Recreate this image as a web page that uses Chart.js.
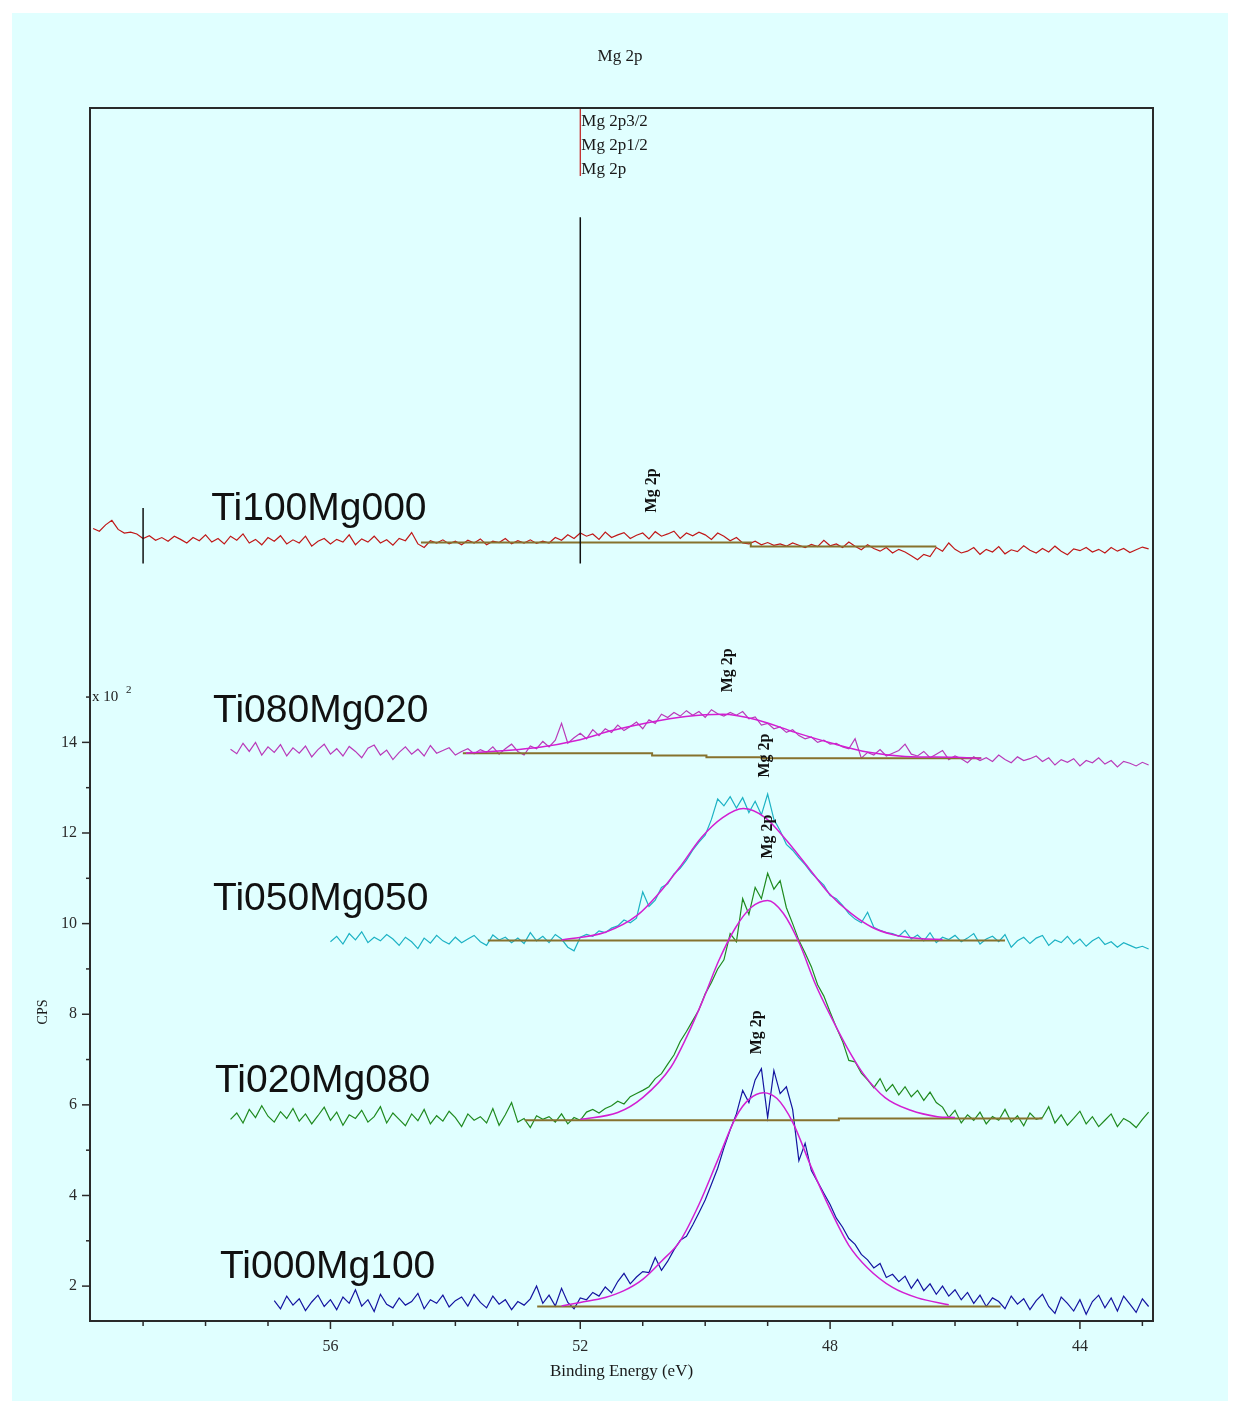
<!DOCTYPE html>
<html lang="en">
<head>
<meta charset="UTF-8">
<title>Mg 2p</title>
<script src="https://cdn.jsdelivr.net/npm/chart.js"></script>
<style>
  body { margin: 0; background: #ffffff; }
  /* light cyan sheet behind the plot */
  #panel { position: absolute; left: 12px; top: 13px; width: 1216px; height: 1388px; background: #e0ffff; }
  #xps { position: absolute; left: 0; top: 0; }
</style>
</head>
<body>
<div id="panel"></div>
<canvas id="xps" width="1239" height="1405"></canvas>
<script>
// counts are in units of 10^2 CPS, spectra stacked with offsets as in the figure
// each spectrum: first binding energy, then one value every 0.1 eV going down
const STEP = 0.1;

const ti100Start = 59.8;
const ti100Mg000 = [
  18.72, 18.66, 18.80, 18.90, 18.70, 18.62, 18.64, 18.60, 18.50, 18.56,
  18.46, 18.52, 18.44, 18.55, 18.48, 18.40, 18.52, 18.45, 18.58, 18.42,
  18.50, 18.38, 18.55, 18.46, 18.60, 18.40, 18.48, 18.36, 18.52, 18.44,
  18.56, 18.38, 18.47, 18.40, 18.55, 18.33, 18.44, 18.50, 18.38, 18.48,
  18.42, 18.58, 18.36, 18.49, 18.42, 18.55, 18.40, 18.47, 18.35, 18.50,
  18.45, 18.63, 18.38, 18.30, 18.45, 18.40, 18.47, 18.38, 18.44, 18.36,
  18.46, 18.40, 18.49, 18.36, 18.44, 18.41, 18.50, 18.38, 18.45, 18.40,
  18.47, 18.39, 18.44, 18.40, 18.52, 18.46, 18.58, 18.50, 18.62, 18.55,
  18.60, 18.48, 18.64, 18.52, 18.58, 18.63, 18.50, 18.57, 18.62, 18.49,
  18.65, 18.55, 18.60, 18.66, 18.50, 18.62, 18.56, 18.64, 18.58, 18.48,
  18.62, 18.55, 18.45, 18.52, 18.40, 18.38, 18.44, 18.36, 18.41, 18.35,
  18.38, 18.33, 18.40, 18.35, 18.30, 18.37, 18.32, 18.46, 18.34, 18.38,
  18.30, 18.42, 18.33, 18.25, 18.36, 18.28, 18.22, 18.30, 18.18, 18.26,
  18.20, 18.12, 18.03, 18.15, 18.10, 18.30, 18.22, 18.40, 18.26, 18.18,
  18.22, 18.30, 18.15, 18.26, 18.20, 18.32, 18.16, 18.25, 18.21, 18.34,
  18.24, 18.18, 18.28, 18.20, 18.33, 18.22, 18.14, 18.27, 18.23, 18.30,
  18.20, 18.26, 18.18, 18.30, 18.22, 18.28, 18.19, 18.25, 18.31, 18.27
];

const ti080Start = 57.6;
const ti080Mg020 = [
  13.85, 13.75, 13.98, 13.80, 14.00, 13.72, 13.90, 13.78, 13.95, 13.70,
  13.88, 13.76, 13.92, 13.68, 13.84, 13.96, 13.74, 13.86, 13.70, 13.91,
  13.80, 13.66, 13.87, 13.94, 13.72, 13.83, 13.62, 13.78, 13.90, 13.74,
  13.85, 13.70, 13.93, 13.76, 13.82, 13.88, 13.72, 13.80, 13.86, 13.75,
  13.84, 13.78, 13.90, 13.74, 13.86, 13.96, 13.80, 13.72, 13.92, 13.86,
  14.02, 13.90, 14.05, 14.42, 13.98, 14.10, 14.20, 14.08, 14.28, 14.15,
  14.30, 14.22, 14.38, 14.26, 14.35, 14.45, 14.30, 14.50, 14.42, 14.62,
  14.55, 14.66, 14.58, 14.70, 14.60, 14.68, 14.55, 14.72, 14.63, 14.58,
  14.66, 14.60, 14.68, 14.52, 14.56, 14.38, 14.42, 14.30, 14.34, 14.22,
  14.28, 14.15, 14.08, 14.12, 14.00, 14.05, 13.96, 13.98, 13.90, 13.86,
  14.08, 13.65, 13.78, 13.72, 13.84, 13.70, 13.76, 13.82, 13.96, 13.74,
  13.70, 13.80, 13.66, 13.74, 13.82, 13.62, 13.70, 13.64, 13.55, 13.68,
  13.60, 13.66, 13.58, 13.72, 13.62, 13.55, 13.68, 13.60, 13.64, 13.70,
  13.58, 13.66, 13.50, 13.62, 13.56, 13.64, 13.48, 13.60, 13.55, 13.66,
  13.52, 13.60, 13.46, 13.58, 13.54, 13.48, 13.56, 13.50
];

const ti050Start = 56.0;
const ti050Mg050 = [
  9.60, 9.72, 9.55, 9.78, 9.64, 9.82, 9.58, 9.70, 9.62, 9.76,
  9.66, 9.52, 9.70, 9.60, 9.45, 9.68, 9.57, 9.74, 9.62, 9.55,
  9.70, 9.58, 9.66, 9.74, 9.60, 9.52, 9.75, 9.64, 9.70, 9.58,
  9.68, 9.56, 9.80, 9.62, 9.72, 9.58, 9.76, 9.66, 9.48, 9.40,
  9.70, 9.76, 9.72, 9.84, 9.80, 9.90, 9.95, 10.08, 10.02, 10.12,
  10.70, 10.38, 10.52, 10.80, 10.88, 11.10, 11.22, 11.40, 11.62, 11.80,
  11.95, 12.30, 12.75, 12.60, 12.80, 12.55, 12.78, 12.45, 12.70, 12.40,
  12.86, 12.30, 12.05, 11.75, 11.62, 11.45, 11.30, 11.12, 10.98, 10.85,
  10.62, 10.55, 10.40, 10.22, 10.10, 10.02, 10.25, 9.92, 9.85, 9.80,
  9.78, 9.72, 9.85, 9.66, 9.75, 9.62, 9.80, 9.58, 9.70, 9.65,
  9.74, 9.60, 9.68, 9.78, 9.55, 9.66, 9.72, 9.60, 9.76, 9.48,
  9.62, 9.70, 9.56, 9.68, 9.74, 9.52, 9.64, 9.58, 9.72, 9.55,
  9.66, 9.50, 9.62, 9.70, 9.54, 9.60, 9.48, 9.58, 9.52, 9.46,
  9.50, 9.44
];

const ti020Start = 57.6;
const ti020Mg080 = [
  5.68, 5.82, 5.60, 5.90, 5.72, 5.98, 5.75, 5.62, 5.85, 5.70,
  5.92, 5.64, 5.80, 5.58, 5.76, 5.95, 5.66, 5.84, 5.55, 5.78,
  5.70, 5.88, 5.62, 5.74, 5.96, 5.60, 5.82, 5.68, 5.54, 5.80,
  5.65, 5.90, 5.58, 5.76, 5.64, 5.86, 5.72, 5.52, 5.80, 5.66,
  5.74, 5.60, 5.92, 5.55, 5.78, 6.05, 5.62, 5.70, 5.50, 5.76,
  5.68, 5.74, 5.62, 5.80, 5.58, 5.72, 5.66, 5.84, 5.90, 5.82,
  5.92, 5.98, 6.08, 6.02, 6.18, 6.25, 6.32, 6.40, 6.58, 6.69,
  6.90, 7.10, 7.40, 7.62, 7.86, 8.10, 8.45, 8.70, 9.00, 9.20,
  9.78, 9.60, 10.55, 10.20, 10.80, 10.55, 11.11, 10.76, 10.95, 10.35,
  10.00, 9.63, 9.35, 9.05, 8.65, 8.40, 8.05, 7.71, 7.40, 6.98,
  6.95, 6.70, 6.55, 6.38, 6.58, 6.30, 6.45, 6.22, 6.40, 6.18,
  6.32, 6.10, 6.28, 6.05, 5.95, 5.72, 5.88, 5.60, 5.78, 5.66,
  5.84, 5.58, 5.74, 5.66, 5.90, 5.62, 5.76, 5.54, 5.82, 5.68,
  5.72, 5.96, 5.60, 5.78, 5.55, 5.70, 5.86, 5.58, 5.74, 5.52,
  5.66, 5.80, 5.52, 5.70, 5.62, 5.50, 5.68, 5.84
];

const ti000Start = 56.9;
const ti000Mg100 = [
  1.68, 1.50, 1.78, 1.58, 1.72, 1.46, 1.65, 1.80, 1.55, 1.70,
  1.48, 1.76, 1.62, 1.92, 1.56, 1.70, 1.44, 1.82, 1.60, 1.52,
  1.74, 1.58, 1.66, 1.84, 1.50, 1.70, 1.62, 1.80, 1.54, 1.68,
  1.76, 1.56, 1.82, 1.64, 1.52, 1.78, 1.60, 1.70, 1.48, 1.66,
  1.58, 1.72, 2.00, 1.62, 1.80, 1.56, 1.95, 1.64, 1.50, 1.74,
  1.70, 1.86, 1.78, 1.98, 1.85, 2.10, 2.28, 2.05, 2.20, 2.32,
  2.30, 2.63, 2.35, 2.55, 2.80, 3.01, 3.10, 3.35, 3.62, 3.90,
  4.25, 4.60, 5.05, 5.45, 5.80, 6.32, 6.05, 6.55, 6.80, 5.72,
  6.76, 6.25, 6.40, 5.90, 4.77, 5.15, 4.55, 4.30, 4.05, 3.80,
  3.50, 3.30, 3.05, 2.92, 2.70, 2.58, 2.40, 2.50, 2.19, 2.26,
  2.10, 2.22, 1.95, 2.15, 1.90, 2.05, 1.82, 2.00, 1.78, 1.92,
  1.70, 1.86, 1.62, 1.80, 1.55, 1.74, 1.66, 1.50, 1.78, 1.60,
  1.72, 1.48, 1.68, 1.82, 1.55, 1.40, 1.76, 1.62, 1.45, 1.70,
  1.38, 1.66, 1.80, 1.52, 1.74, 1.45, 1.78, 1.60, 1.42, 1.72,
  1.55
];

// peak fit envelopes
const fit080E = [53.83, 52.65, 52.06, 51.49, 50.90, 50.31, 49.72, 49.15, 48.56, 47.97, 47.38, 46.80, 46.02, 45.58];
const fit080V = [13.76, 13.89, 14.04, 14.26, 14.44, 14.57, 14.62, 14.49, 14.22, 13.98, 13.78, 13.69, 13.67, 13.65];
const fit050E = [52.30, 51.60, 51.09, 50.74, 50.41, 50.06, 49.72, 49.39, 49.04, 48.70, 48.35, 48.02, 47.67, 47.33, 47.00, 46.57, 46.20];
const fit050V = [9.64, 9.81, 10.18, 10.67, 11.24, 11.90, 12.34, 12.54, 12.34, 11.84, 11.24, 10.67, 10.23, 9.92, 9.76, 9.67, 9.65];
const fit020E = [52.00, 51.40, 51.00, 50.55, 50.30, 50.04, 49.78, 49.51, 49.26, 49.00, 48.75, 48.49, 48.24, 47.98, 47.73, 47.47, 47.12, 46.71, 46.28, 46.00];
const fit020V = [5.68, 5.83, 6.16, 6.83, 7.49, 8.30, 9.19, 9.92, 10.36, 10.51, 10.23, 9.56, 8.68, 7.93, 7.27, 6.69, 6.16, 5.88, 5.74, 5.72];
const fit000E = [52.30, 52.00, 51.60, 51.30, 51.00, 50.70, 50.40, 50.10, 49.80, 49.50, 49.30, 49.07, 48.85, 48.60, 48.30, 48.00, 47.70, 47.40, 47.00, 46.60, 46.10];
const fit000V = [1.56, 1.64, 1.75, 1.90, 2.15, 2.55, 3.00, 3.80, 4.78, 5.75, 6.12, 6.27, 6.14, 5.62, 4.62, 3.70, 2.90, 2.40, 1.97, 1.74, 1.59];

// stepped backgrounds under each peak
const bg100E = [54.55, 49.27, 49.27, 46.30];
const bg100V = [18.41, 18.41, 18.32, 18.32];
const bg080E = [53.88, 50.85, 50.85, 49.98, 49.98, 49.10, 49.10, 45.58];
const bg080V = [13.76, 13.76, 13.71, 13.71, 13.67, 13.67, 13.65, 13.65];
const bg050E = [53.48, 45.20];
const bg050V = [9.63, 9.63];
const bg020E = [52.89, 47.86, 47.86, 44.60];
const bg020V = [5.66, 5.66, 5.70, 5.70];
const bg000E = [52.69, 45.27];
const bg000V = [1.55, 1.55];

// sample names: anchor = left edge energy, vertical centre value
const sampleNames = ['Ti100Mg000', 'Ti080Mg020', 'Ti050Mg050', 'Ti020Mg080', 'Ti000Mg100'];
const sampleNameE = [57.91, 57.88, 57.88, 57.85, 57.77];
const sampleNameV = [19.14, 14.68, 10.53, 6.52, 2.41];

// rotated "Mg 2p" peak labels
const peakLabelE = [50.85, 49.63, 49.05, 49.00, 49.18];
const peakLabelV = [19.56, 15.59, 13.71, 11.92, 7.60];

const xTickValues = [43, 44, 45, 46, 47, 48, 49, 50, 51, 52, 53, 54, 55, 56, 57, 58, 59];
const xTickLabels = [56, 52, 48, 44];
const yTickValues = [2, 3, 4, 5, 6, 7, 8, 9, 10, 11, 12, 13, 14, 15];
const yTickLabels = [2, 4, 6, 8, 10, 12, 14];

const serif = '"Liberation Serif", "Times New Roman", serif';
const sans = '"Liberation Sans", Arial, sans-serif';

function spectrum(start, values) {
  return values.map((v, i) => ({ x: +(start - i * STEP).toFixed(2), y: v }));
}
function pairs(es, vs) {
  return es.map((e, i) => ({ x: e, y: vs[i] }));
}

const spectra = [
  { name: 'Ti100Mg000', data: spectrum(ti100Start, ti100Mg000), color: '#c01818' },
  { name: 'Ti080Mg020', data: spectrum(ti080Start, ti080Mg020), color: '#b93ab9' },
  { name: 'Ti050Mg050', data: spectrum(ti050Start, ti050Mg050), color: '#1cb2c4' },
  { name: 'Ti020Mg080', data: spectrum(ti020Start, ti020Mg080), color: '#1f8a1f' },
  { name: 'Ti000Mg100', data: spectrum(ti000Start, ti000Mg100), color: '#1414a0' }
];
const fits = [pairs(fit080E, fit080V), pairs(fit050E, fit050V), pairs(fit020E, fit020V), pairs(fit000E, fit000V)];
const backgrounds = [pairs(bg100E, bg100V), pairs(bg080E, bg080V), pairs(bg050E, bg050V), pairs(bg020E, bg020V), pairs(bg000E, bg000V)];

const datasets = [];
spectra.forEach(s => datasets.push({ label: s.name, data: s.data, borderColor: s.color, borderWidth: 1.2, order: 3 }));
fits.forEach((f, i) => datasets.push({ label: 'fit ' + i, data: f, borderColor: '#d21fd2', borderWidth: 1.5, cubicInterpolationMode: 'monotone', order: 1 }));
backgrounds.forEach((b, i) => datasets.push({ label: 'bg ' + i, data: b, borderColor: '#86722e', borderWidth: 2, order: 2 }));

// frame, tick marks and all the text annotations
const overlay = {
  id: 'overlay',
  afterDatasetsDraw(chart) {
    const { ctx, chartArea: a, scales: { x, y } } = chart;
    const line = (x1, y1, x2, y2) => { ctx.beginPath(); ctx.moveTo(x1, y1); ctx.lineTo(x2, y2); ctx.stroke(); };
    ctx.save();

    // annotation markers at 52 eV and 59 eV
    ctx.strokeStyle = '#111';
    ctx.lineWidth = 1.5;
    line(x.getPixelForValue(52), y.getPixelForValue(25.59), x.getPixelForValue(52), y.getPixelForValue(17.95));
    line(x.getPixelForValue(59), y.getPixelForValue(19.17), x.getPixelForValue(59), y.getPixelForValue(17.95));
    ctx.strokeStyle = '#c01818';
    ctx.lineWidth = 1.2;
    line(x.getPixelForValue(52), a.top, x.getPixelForValue(52), y.getPixelForValue(26.50));

    // frame
    ctx.strokeStyle = '#2a2a2a';
    ctx.lineWidth = 2;
    ctx.strokeRect(a.left, a.top, a.right - a.left, a.bottom - a.top);

    // tick marks
    ctx.lineWidth = 1.5;
    x.ticks.forEach(t => {
      const px = x.getPixelForValue(t.value);
      line(px, a.bottom, px, a.bottom + (xTickLabels.includes(t.value) ? 8 : 5));
    });
    y.ticks.forEach(t => {
      const py = y.getPixelForValue(t.value);
      line(a.left, py, a.left - (yTickLabels.includes(t.value) ? 8 : 4), py);
    });

    ctx.fillStyle = '#1a1a1a';
    ctx.textBaseline = 'middle';

    // title
    ctx.font = '17px ' + serif;
    ctx.textAlign = 'center';
    ctx.fillText('Mg 2p', 620, 57);

    // component list at the top marker
    ctx.textAlign = 'left';
    const px52 = x.getPixelForValue(52) + 1;
    ctx.fillText('Mg 2p3/2', px52, 122);
    ctx.fillText('Mg 2p1/2', px52, 146);
    ctx.fillText('Mg 2p', px52, 170);

    // axis multiplier
    const p15 = y.getPixelForValue(15);
    ctx.font = '15px ' + serif;
    ctx.fillText('x 10', a.left + 2, p15);
    ctx.font = '11px ' + serif;
    ctx.fillText('2', a.left + 36, p15 - 7);

    // y title
    ctx.font = '14px ' + serif;
    ctx.save();
    ctx.translate(43, 1012);
    ctx.rotate(-Math.PI / 2);
    ctx.textAlign = 'center';
    ctx.fillText('CPS', 0, 0);
    ctx.restore();

    // peak labels
    ctx.font = 'bold 16px ' + serif;
    ctx.fillStyle = '#111';
    peakLabelE.forEach((e, i) => {
      ctx.save();
      ctx.translate(x.getPixelForValue(e), y.getPixelForValue(peakLabelV[i]));
      ctx.rotate(-Math.PI / 2);
      ctx.textAlign = 'center';
      ctx.fillText('Mg 2p', 0, 0);
      ctx.restore();
    });

    // sample names
    ctx.font = '39px ' + sans;
    ctx.textAlign = 'left';
    sampleNames.forEach((n, i) => ctx.fillText(n, x.getPixelForValue(sampleNameE[i]), y.getPixelForValue(sampleNameV[i])));

    ctx.restore();
  }
};

new Chart(document.getElementById('xps'), {
  type: 'line',
  data: { datasets },
  plugins: [overlay],
  options: {
    responsive: false,
    animation: false,
    events: [],
    layout: { padding: { left: 30, right: 86, top: 108, bottom: 0 } },
    elements: { point: { radius: 0 } },
    plugins: { legend: { display: false }, tooltip: { enabled: false } },
    scales: {
      x: {
        type: 'linear',
        reverse: true,
        min: 42.83,
        max: 59.85,
        afterBuildTicks: s => { s.ticks = xTickValues.map(v => ({ value: v })); },
        afterFit: s => { s.height = 84; },
        grid: { display: false },
        border: { display: false },
        ticks: {
          autoSkip: false,
          maxRotation: 0,
          padding: 8,
          color: '#2a2a2a',
          font: { family: serif, size: 16 },
          callback: v => xTickLabels.includes(v) ? String(v) : ''
        },
        title: {
          display: true,
          text: 'Binding Energy (eV)',
          color: '#1a1a1a',
          font: { family: serif, size: 17 },
          padding: { top: 0, bottom: 23 }
        }
      },
      y: {
        type: 'linear',
        min: 1.23,
        max: 28.0,
        afterBuildTicks: s => { s.ticks = yTickValues.map(v => ({ value: v })); },
        afterFit: s => { s.width = 60; },
        grid: { display: false },
        border: { display: false },
        ticks: {
          autoSkip: false,
          padding: 5,
          color: '#2a2a2a',
          font: { family: serif, size: 16 },
          callback: v => yTickLabels.includes(v) ? String(v) : ''
        }
      }
    }
  }
});
</script>
</body>
</html>
